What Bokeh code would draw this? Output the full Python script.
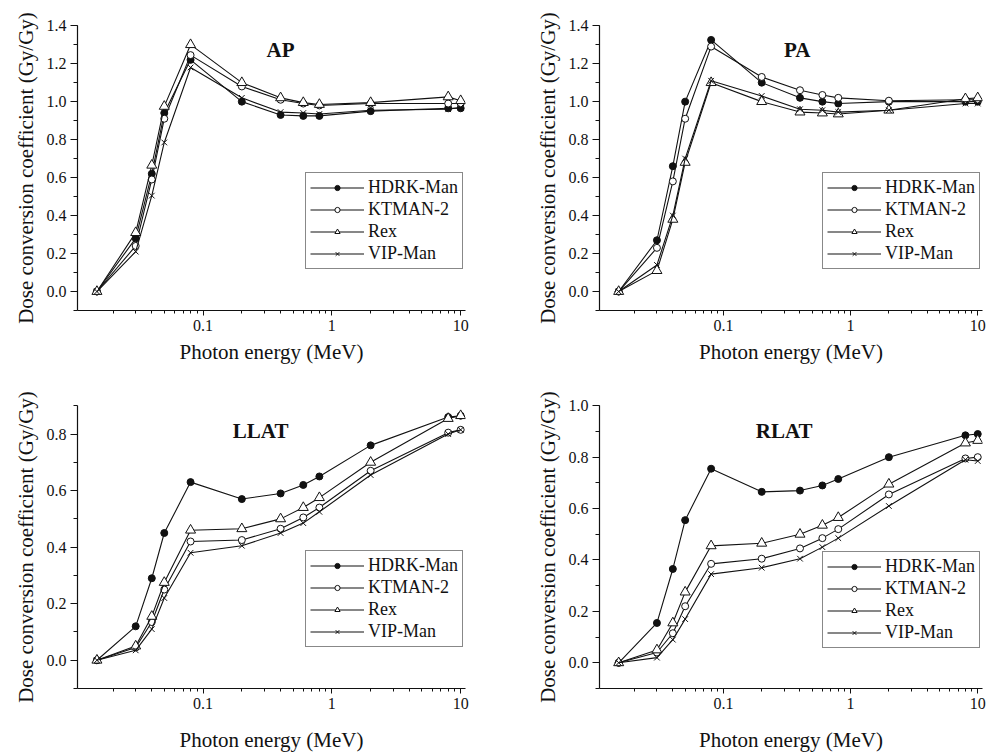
from bokeh.plotting import figure
from bokeh.models import (Range1d, FixedTicker, SingleIntervalTicker, PrintfTickFormatter,
                          CustomJSTickFormatter, Legend, LegendItem, Label)
from bokeh.layouts import column, row
from bokeh.embed import file_html
from bokeh.resources import INLINE

# ---------------- data ----------------
energy = [0.015, 0.03, 0.04, 0.05, 0.08, 0.2, 0.4, 0.6, 0.8, 2, 8, 10]

series_names = ["HDRK-Man", "KTMAN-2", "Rex", "VIP-Man"]

hdrk_ap = [0, 0.28, 0.62, 0.94, 1.22, 1.00, 0.93, 0.925, 0.925, 0.95, 0.965, 0.965]
ktman_ap = [0, 0.24, 0.59, 0.91, 1.245, 1.08, 1.01, 0.99, 0.98, 0.99, 0.99, 0.99]
rex_ap = [0, 0.31, 0.665, 0.975, 1.30, 1.10, 1.02, 0.995, 0.985, 0.995, 1.025, 1.005]
vip_ap = [0, 0.21, 0.505, 0.785, 1.18, 1.02, 0.945, 0.94, 0.935, 0.955, 0.96, 0.97]

hdrk_pa = [0, 0.27, 0.66, 1.00, 1.325, 1.10, 1.02, 1.00, 0.99, 1.00, 1.00, 1.00]
ktman_pa = [0, 0.23, 0.58, 0.91, 1.29, 1.13, 1.06, 1.035, 1.02, 1.005, 1.01, 1.01]
rex_pa = [0, 0.11, 0.38, 0.68, 1.10, 1.00, 0.945, 0.94, 0.935, 0.955, 1.015, 1.02]
vip_pa = [0, 0.14, 0.40, 0.70, 1.11, 1.03, 0.96, 0.955, 0.945, 0.955, 0.99, 0.99]

hdrk_llat = [0, 0.12, 0.29, 0.45, 0.63, 0.57, 0.59, 0.62, 0.65, 0.76, 0.86, 0.865]
ktman_llat = [0, 0.045, 0.135, 0.25, 0.42, 0.425, 0.465, 0.505, 0.54, 0.67, 0.805, 0.815]
rex_llat = [0, 0.05, 0.155, 0.275, 0.46, 0.465, 0.50, 0.54, 0.575, 0.70, 0.855, 0.865]
vip_llat = [0, 0.035, 0.11, 0.22, 0.38, 0.405, 0.45, 0.485, 0.525, 0.655, 0.80, 0.815]

hdrk_rlat = [0, 0.155, 0.365, 0.555, 0.755, 0.665, 0.67, 0.69, 0.715, 0.80, 0.885, 0.89]
ktman_rlat = [0, 0.04, 0.115, 0.22, 0.385, 0.405, 0.445, 0.485, 0.52, 0.655, 0.795, 0.80]
rex_rlat = [0, 0.05, 0.155, 0.275, 0.455, 0.465, 0.50, 0.535, 0.565, 0.695, 0.855, 0.865]
vip_rlat = [0, 0.02, 0.09, 0.17, 0.345, 0.37, 0.405, 0.45, 0.485, 0.61, 0.79, 0.785]

x_major_ticks = [0.1, 1, 10]
x_minor_ticks = [0.02, 0.03, 0.04, 0.05, 0.06, 0.07, 0.08, 0.09,
                 0.2, 0.3, 0.4, 0.5, 0.6, 0.7, 0.8, 0.9,
                 2, 3, 4, 5, 6, 7, 8, 9]

FONT = "Liberation Serif"
INK = "#111111"

marker_styles = [
    dict(marker="circle", size=7, fill_color=INK),
    dict(marker="circle", size=7, fill_color="white"),
    dict(marker="triangle", size=10, fill_color="white"),
    dict(marker="x", size=8, fill_color=None),
]


def make_panel(title, ys, y_end, title_x, title_y, width, height, borders, legend_xy,
               xlabel_standoff):
    bl, br, bt, bb = borders
    p = figure(width=width, height=height, x_axis_type="log",
               x_range=Range1d(0.0106, 10.9), y_range=Range1d(-0.1, y_end + 0.001),
               output_backend="svg", toolbar_location=None,
               min_border_left=bl, min_border_right=br,
               min_border_top=bt, min_border_bottom=bb)
    p.outline_line_color = None
    p.xgrid.visible = False
    p.ygrid.visible = False
    p.background_fill_color = "white"
    p.border_fill_color = "white"

    items = []
    for name, y, ms in zip(series_names, ys, marker_styles):
        lr = p.line(energy, y, line_color=INK, line_width=1.1)
        sr = p.scatter(energy, y, line_color=INK, line_width=1, **ms)
        items.append(LegendItem(label=name, renderers=[lr, sr]))

    legend = Legend(items=items, location=legend_xy)
    legend.label_text_font = FONT
    legend.label_text_font_size = "18px"
    legend.label_text_color = INK
    legend.border_line_color = INK
    legend.border_line_width = 1
    legend.background_fill_alpha = 1
    legend.glyph_width = 54
    legend.glyph_height = 13
    legend.label_height = 20
    legend.spacing = 1
    legend.padding = 4
    legend.margin = 0
    legend.label_standoff = 4
    p.add_layout(legend, "center")

    # axes
    p.xaxis.ticker = FixedTicker(ticks=x_major_ticks, minor_ticks=x_minor_ticks)
    p.xaxis.formatter = CustomJSTickFormatter(code="return tick.toString();")
    p.yaxis.ticker = SingleIntervalTicker(interval=0.2, num_minor_ticks=2)
    p.yaxis.formatter = PrintfTickFormatter(format="%.1f")
    for ax in (p.xaxis, p.yaxis):
        ax.axis_line_color = INK
        ax.axis_line_width = 1.2
        ax.major_tick_line_color = INK
        ax.minor_tick_line_color = INK
        ax.major_tick_in = 0
        ax.minor_tick_in = 0
        ax.major_label_text_font = FONT
        ax.major_label_text_font_size = "16px"
        ax.major_label_text_color = INK
        ax.axis_label_text_font = FONT
        ax.axis_label_text_font_size = "21px"
        ax.axis_label_text_font_style = "normal"
        ax.axis_label_text_color = INK
    p.xaxis.major_tick_out = 5
    p.xaxis.minor_tick_out = 3
    p.xaxis.major_label_standoff = 4
    p.yaxis.major_tick_out = 7
    p.yaxis.minor_tick_out = 4
    p.yaxis.major_label_standoff = 4
    p.xaxis.axis_label = "Photon energy (MeV)"
    p.yaxis.axis_label = "Dose conversion coefficient (Gy/Gy)"
    p.yaxis.axis_label_standoff = 6
    p.xaxis.axis_label_standoff = xlabel_standoff

    p.add_layout(Label(x=title_x, y=title_y, text=title, text_font=FONT,
                       text_font_size="21px", text_font_style="bold",
                       text_color=INK, text_align="center", text_baseline="middle"))
    return p


p_ap = make_panel("AP", [hdrk_ap, ktman_ap, rex_ap, vip_ap], 1.4, 0.4, 1.27,
                  496, 377, (77, 31, 25, 67), (228, 41), 6)
p_pa = make_panel("PA", [hdrk_pa, ktman_pa, rex_pa, vip_pa], 1.4, 0.38, 1.27,
                  494, 377, (103, 8, 25, 67), (223, 41), 6)
p_ll = make_panel("LLAT", [hdrk_llat, ktman_llat, rex_llat, vip_llat], 0.9, 0.28, 0.81,
                  496, 377, (77, 31, 28, 63), (228, 41), 16)
p_rl = make_panel("RLAT", [hdrk_rlat, ktman_rlat, rex_rlat, vip_rlat], 1.0, 0.30, 0.90,
                  494, 377, (103, 8, 28, 63), (223, 40), 16)

layout = column(row(p_ap, p_pa), row(p_ll, p_rl))

open("out.html", "w").write(file_html(layout, INLINE))
